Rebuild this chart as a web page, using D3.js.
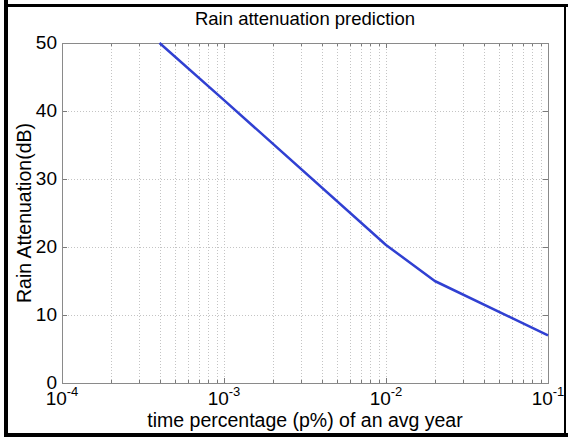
<!DOCTYPE html>
<html>
<head>
<meta charset="utf-8">
<script src="https://cdn.jsdelivr.net/npm/d3@7"></script>
<style>
  html, body { margin: 0; padding: 0; background: #fff; }
  text { font-family: "Liberation Sans", Arial, sans-serif; fill: #000; }
</style>
</head>
<body>
<div id="chart"></div>
<script>
// data
const pValues     = [0.0004, 0.001, 0.01, 0.02, 0.1];
const attenuation = [50, 41.6, 20.3, 15, 7];
const yTicks      = [0, 10, 20, 30, 40, 50];
const xTickExps   = [-4, -3, -2, -1];
const title  = "Rain attenuation prediction";
const xLabel = "time percentage (p%) of an avg year";
const yLabel = "Rain Attenuation(dB)";

const W = 568, H = 437;
const plotL = 62, plotR = 548, plotT = 43, plotB = 383;

const svg = d3.select("#chart").append("svg")
  .attr("width", W).attr("height", H);

// outer black frame of the screenshot
svg.append("rect").attr("x", 4).attr("y", 0).attr("width", 4).attr("height", H).attr("fill", "#000");
svg.append("rect").attr("x", 4).attr("y", 4).attr("width", W - 4).attr("height", 3).attr("fill", "#000");
svg.append("rect").attr("x", 4).attr("y", 433).attr("width", W - 4).attr("height", 4).attr("fill", "#000");
svg.append("rect").attr("x", 564).attr("y", 4).attr("width", 2).attr("height", H - 4).attr("fill", "#000");

const x = d3.scaleLog().domain([1e-4, 1e-1]).range([plotL, plotR]);
const y = d3.scaleLinear().domain([0, 50]).range([plotB, plotT]);

// minor + major x grid
const minorX = [];
xTickExps.slice(0, -1).forEach(e => {
  for (let k = 2; k <= 9; k++) minorX.push(k * Math.pow(10, e));
});
const majorX = xTickExps.map(e => Math.pow(10, e));

const grid = svg.append("g")
  .attr("stroke", "#c4c4c4").attr("stroke-width", 1).attr("stroke-dasharray", "1,2");

grid.selectAll(".gx").data(minorX.concat(majorX.slice(1, -1))).enter().append("line")
  .attr("x1", d => Math.round(x(d)) + 0.5).attr("x2", d => Math.round(x(d)) + 0.5)
  .attr("y1", plotT).attr("y2", plotB);

grid.selectAll(".gy").data(yTicks.slice(1, -1)).enter().append("line")
  .attr("x1", plotL).attr("x2", plotR)
  .attr("y1", d => Math.round(y(d)) + 0.5).attr("y2", d => Math.round(y(d)) + 0.5);

// ticks (inward, both sides)
const ticks = svg.append("g").attr("stroke", "#7a7a7a").attr("stroke-width", 1);
majorX.forEach(d => {
  const xx = Math.round(x(d)) + 0.5;
  ticks.append("line").attr("x1", xx).attr("x2", xx).attr("y1", plotB).attr("y2", plotB - 5);
  ticks.append("line").attr("x1", xx).attr("x2", xx).attr("y1", plotT).attr("y2", plotT + 5);
});
minorX.forEach(d => {
  const xx = Math.round(x(d)) + 0.5;
  ticks.append("line").attr("x1", xx).attr("x2", xx).attr("y1", plotB).attr("y2", plotB - 3);
  ticks.append("line").attr("x1", xx).attr("x2", xx).attr("y1", plotT).attr("y2", plotT + 3);
});
yTicks.forEach(d => {
  const yy = Math.round(y(d)) + 0.5;
  ticks.append("line").attr("x1", plotL).attr("x2", plotL + 5).attr("y1", yy).attr("y2", yy);
  ticks.append("line").attr("x1", plotR).attr("x2", plotR - 5).attr("y1", yy).attr("y2", yy);
});

// axes box
svg.append("rect")
  .attr("x", plotL + 0.5).attr("y", plotT + 0.5)
  .attr("width", plotR - plotL).attr("height", plotB - plotT)
  .attr("fill", "none").attr("stroke", "#8a8a8a").attr("stroke-width", 1);

// data line
const line = d3.line()
  .x((d, i) => x(pValues[i]))
  .y(d => y(d));

svg.append("path")
  .datum(attenuation)
  .attr("d", line)
  .attr("fill", "none")
  .attr("stroke", "#3040d2")
  .attr("stroke-width", 2.5)
  .attr("stroke-linejoin", "round");

// y tick labels
svg.append("g").selectAll("text").data(yTicks).enter().append("text")
  .attr("x", plotL - 5).attr("y", d => y(d) + 6)
  .attr("text-anchor", "end").attr("font-size", 19)
  .text(d => d);

// x tick labels 10^n
const xl = svg.append("g").selectAll("text").data(xTickExps).enter().append("text")
  .attr("x", d => x(Math.pow(10, d)))
  .attr("y", 405)
  .attr("text-anchor", "middle").attr("font-size", 19);
xl.append("tspan").text("10");
xl.append("tspan").attr("dy", -9).attr("font-size", 13).text(d => d);

// title and axis labels
svg.append("text")
  .attr("x", (plotL + plotR) / 2).attr("y", 25)
  .attr("text-anchor", "middle").attr("font-size", 18.5)
  .text(title);

svg.append("text")
  .attr("x", (plotL + plotR) / 2).attr("y", 427)
  .attr("text-anchor", "middle").attr("font-size", 19.5)
  .text(xLabel);

svg.append("text")
  .attr("transform", `translate(31,${(plotT + plotB) / 2}) rotate(-90)`)
  .attr("text-anchor", "middle").attr("font-size", 19.5)
  .text(yLabel);
</script>
</body>
</html>
